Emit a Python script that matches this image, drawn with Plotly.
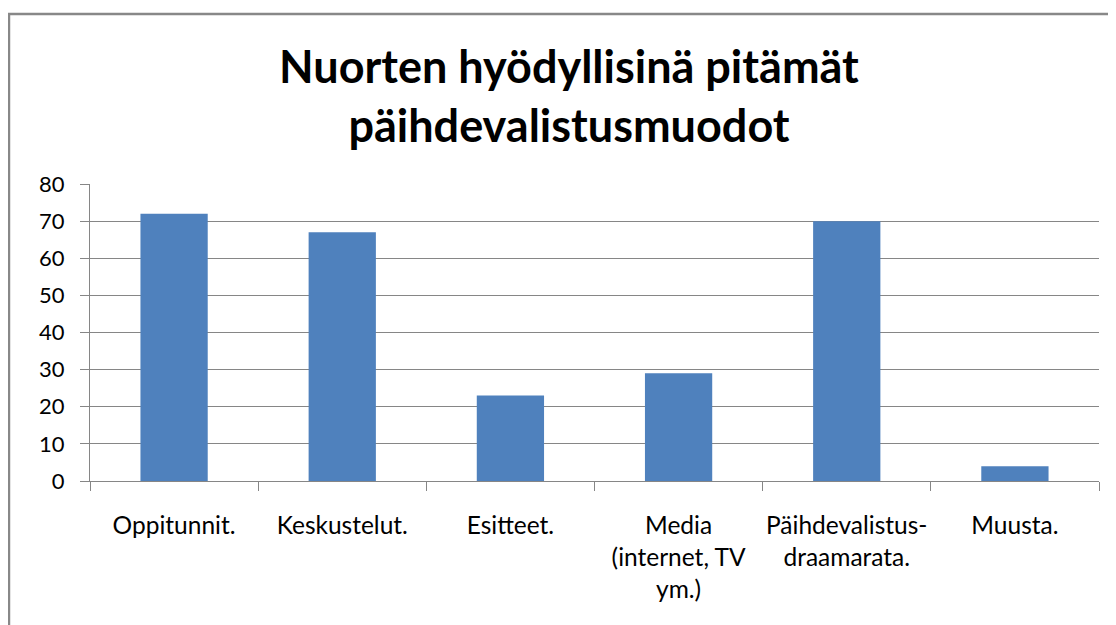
import plotly.graph_objects as go

categories = ["Oppitunnit.", "Keskustelut.", "Esitteet.", "Media<br>(internet, TV<br>ym.)",
              "Päihdevalistus-<br>draamarata.", "Muusta."]
values = [72, 67, 23, 29, 70, 4]
y_ticks = [0, 10, 20, 30, 40, 50, 60, 70, 80]

FONT = "Lato"
GRID = "#868686"

fig = go.Figure(go.Bar(x=categories, y=values, marker=dict(color="#4F81BD", line=dict(width=0))))

fig.update_layout(
    width=1108, height=617,
    margin=dict(l=82, r=17, t=176, b=144),
    paper_bgcolor="white", plot_bgcolor="white",
    bargap=0.6,
    showlegend=False,
    title=dict(text="<b>Nuorten hyödyllisinä pitämät<br>päihdevalistusmuodot</b>",
               x=0.5063, xanchor="center", y=0.8784, yanchor="middle",
               font=dict(family=FONT, size=45, color="black")),
    font=dict(family=FONT, size=24, color="black"),
)
fig.update_xaxes(
    showline=True, linecolor=GRID, linewidth=1,
    ticks="outside", ticklen=9, tickcolor=GRID, tickson="boundaries",
    showgrid=False, ticklabelstandoff=23, tickangle=0, automargin=False,
    tickfont=dict(family=FONT, size=24.5, color="black"),
)
fig.update_yaxes(
    range=[0, 80], tickvals=y_ticks,
    showline=True, linecolor=GRID, linewidth=1,
    ticks="outside", ticklen=9, tickcolor=GRID,
    showgrid=True, gridcolor=GRID, gridwidth=1, automargin=False,
    zeroline=False, ticklabelstandoff=11,
    tickfont=dict(family=FONT, size=22, color="black"),
)
# outer chart-area border (extends beyond the right and bottom edges)
fig.add_shape(type="rect", xref="paper", yref="paper",
              x0=-0.0803, x1=1.05, y0=-0.55, y1=1.5724,
              line=dict(color="#888888", width=2.5), layer="below")

fig.write_html("out.html")
